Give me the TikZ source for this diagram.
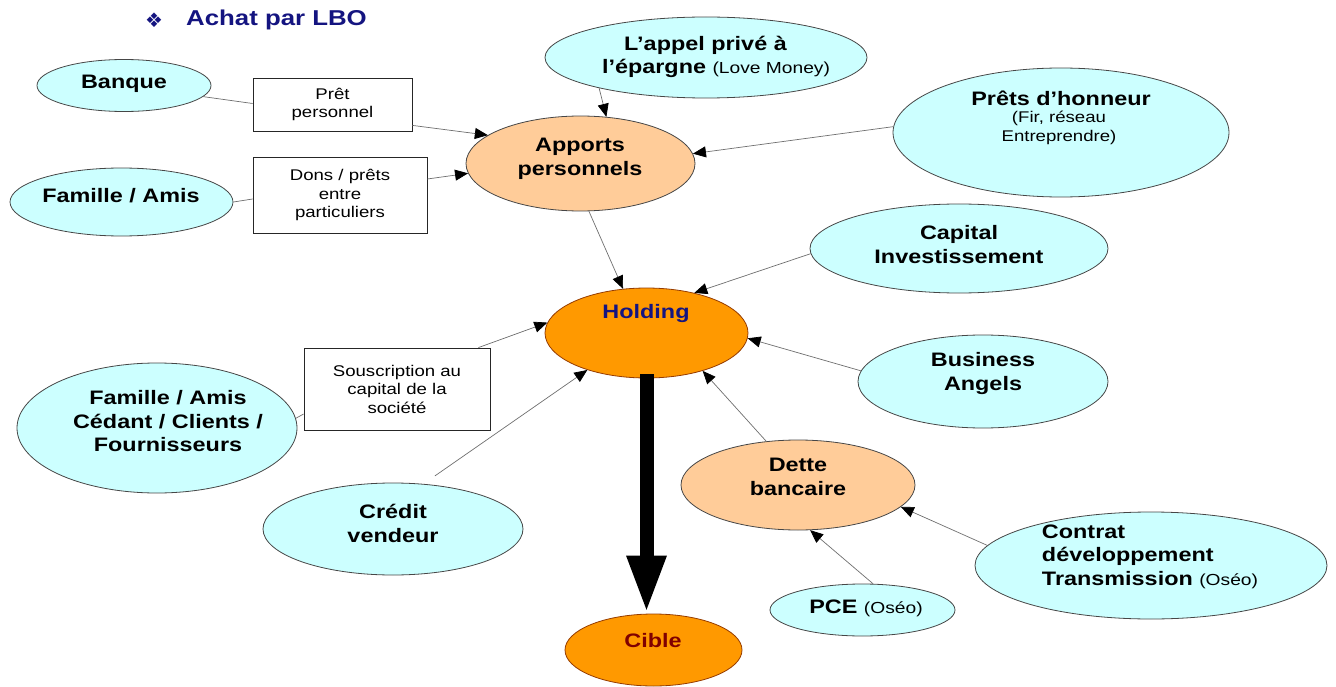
\documentclass[tikz,border=0pt]{standalone}
\usepackage{fontspec}
\setmainfont{Liberation Sans}[FakeStretch=1.2]
\newfontfamily\dejavu{DejaVu Sans}
\usetikzlibrary{shapes.geometric,arrows.meta}
\definecolor{lcyan}{RGB}{204,255,255}
\definecolor{peach}{RGB}{255,204,153}
\definecolor{orng}{RGB}{255,153,0}
\definecolor{navyt}{RGB}{20,20,128}
\definecolor{maroonc}{RGB}{128,0,0}
\definecolor{linegray}{RGB}{110,110,110}
\definecolor{ellborder}{RGB}{70,70,70}
\definecolor{orborder}{RGB}{150,60,0}
\newcommand{\smtxt}[1]{{\fontsize{16}{18}\selectfont\mdseries #1}}
\tikzset{
  ell/.style={ellipse, inner sep=0pt, draw=ellborder, line width=0.8pt},
  cyanell/.style={ell, fill=lcyan},
  peachell/.style={ell, fill=peach},
  orangeell/.style={ell, fill=orng, draw=orborder},
  big/.style={font=\fontsize{19.5}{23.5}\selectfont\bfseries, inner sep=0pt, align=center},
  sm/.style={font=\fontsize{15.5}{18.5}\selectfont, inner sep=0pt, align=center},
  txtbox/.style={draw=black!85, line width=0.8pt, fill=white, sm},
  conn/.style={draw=linegray, line width=0.7pt},
  arr/.style={conn, -{Triangle[length=13pt,width=11pt,color=black]}},
}
\begin{document}
\begin{tikzpicture}[x=1pt,y=-1pt]
\useasboundingbox (0,0) rectangle (1336,687);
% title
\node[font=\dejavu\fontsize{20}{20}\selectfont, text=navyt, inner sep=0pt] (bullet) at (154,20) {❖};
\node[font=\fontsize{21.5}{24}\selectfont\bfseries, text=navyt, inner sep=0pt, anchor=west] (title) at (186,20) {Achat par LBO};
% nodes
\node[cyanell, minimum width=174pt, minimum height=52pt] (banque) at (124,85.5) {};
\node[big] (banque-t) at (124,84) {Banque};
\node[txtbox, minimum width=159pt, minimum height=53pt] (pret) at (332.5,104.5) {Prêt\\personnel};
\node[cyanell, minimum width=223pt, minimum height=68pt] (famille) at (121.5,202) {};
\node[big] (famille-t) at (121,196) {Famille / Amis};
\node[txtbox, minimum width=174pt, minimum height=76pt] (dons) at (340,195) {Dons / prêts\\entre\\particuliers};
\node[cyanell, minimum width=322pt, minimum height=81pt] (appel) at (706,57.5) {};
\node[big] (appel-t) at (716,57) {L’appel privé à\rule{21pt}{0pt}\\l’épargne \smtxt{(Love Money)}};
\node[peachell, minimum width=229pt, minimum height=95pt] (apports) at (580.5,163.5) {};
\node[big] (apports-t) at (580,159) {Apports\\personnels};
\node[cyanell, minimum width=336pt, minimum height=129pt] (prets) at (1061,132.5) {};
\node[big] (prets-t1) at (1061,98) {Prêts d’honneur};
\node[sm] (prets-t2) at (1059,128) {(Fir, réseau\\Entreprendre)};
\node[cyanell, minimum width=298pt, minimum height=89pt] (capital) at (959,248.5) {};
\node[big] (capital-t) at (959,244.5) {Capital\\Investissement};
\node[orangeell, minimum width=203pt, minimum height=90pt] (holding) at (646.5,333) {};
\node[big, text=navyt] (holding-t) at (646,314) {Holding};
\node[cyanell, minimum width=250pt, minimum height=93pt] (business) at (983,381.5) {};
\node[big] (business-t) at (983,373.5) {Business\\Angels};
\node[txtbox, minimum width=186pt, minimum height=82pt] (sous) at (397,389) {Souscription au\\capital de la\\société};
\node[cyanell, minimum width=280pt, minimum height=130pt] (fam2) at (157,428) {};
\node[big] (fam2-t) at (168,421.5) {Famille / Amis\\Cédant / Clients /\\Fournisseurs};
\node[cyanell, minimum width=260pt, minimum height=92pt] (credit) at (393,529) {};
\node[big] (credit-t) at (393,523.5) {Crédit\\vendeur};
\node[peachell, minimum width=234pt, minimum height=90pt] (dette) at (798,485) {};
\node[big] (dette-t) at (798,477) {Dette\\bancaire};
\node[cyanell, minimum width=352pt, minimum height=107pt] (contrat) at (1151,565.5) {};
\node[big, align=left] (contrat-t) at (1150,556.5) {Contrat\\développement\\Transmission \smtxt{(Oséo)}};
\node[cyanell, minimum width=185pt, minimum height=52pt] (pce) at (862.5,610) {};
\node[big] (pce-t) at (866,608) {PCE \smtxt{(Oséo)}};
\node[orangeell, minimum width=177pt, minimum height=72pt] (cible) at (653.5,650) {};
\node[big, text=maroonc] (cible-t) at (653,641) {Cible};
% connectors
\draw[conn] (banque.-8) -- ([yshift=1pt]pret.west);
\draw[arr] ([yshift=6pt]pret.south east) -- (apports.163);
\draw[conn] (famille.east) -- ([yshift=-4pt]dons.west);
\draw[arr] ([yshift=16pt]dons.east) -- (apports.185);
\draw[arr] (appel.196) -- (apports.61);
\draw[arr] (prets.178) -- (apports.5);
\draw[arr] (apports.280) -- (holding.118);
\draw[arr] (capital.182) -- (holding.40);
\draw[arr] ([xshift=-12pt]sous.north east) -- (holding.174);
\draw[conn] (fam2.4) -- ([yshift=-25pt]sous.west);
\draw[arr, shorten <=14pt] (credit.56) -- (holding.212);
\draw[arr] (business.175) -- (holding.357);
\draw[arr] (dette.126) -- (holding.326);
\draw[arr] (pce.68) -- (dette.285);
\draw[arr] (contrat.173) -- (dette.348);
\draw[line width=14pt, -{Triangle[length=58pt,width=36pt]}] ([yshift=4pt]holding.south) -- (holding.south |- cible.north);
\end{tikzpicture}
\end{document}
